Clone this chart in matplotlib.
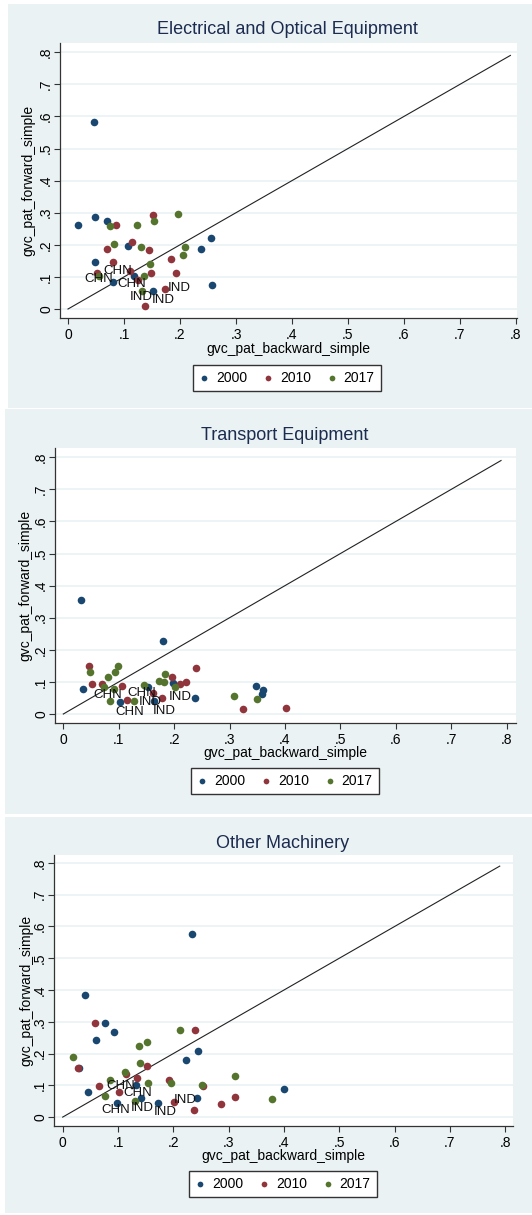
import matplotlib.pyplot as plt
import numpy as np

plt.rcParams['font.family'] = ['Liberation Sans', 'DejaVu Sans']

W, H = 532, 1215
BG = '#eaf2f3'
COLORS = ['#1a476f', '#90353b', '#55752f']
YEARS = ['2000', '2010', '2017']

# --- data -------------------------------------------------------------
titles = ['Electrical and Optical Equipment', 'Transport Equipment', 'Other Machinery']

# Electrical and Optical Equipment
e_2000_x = [0.018, 0.048, 0.069, 0.108, 0.048, 0.080, 0.117, 0.151, 0.238, 0.255, 0.257, 0.046]
e_2000_y = [0.261, 0.286, 0.273, 0.197, 0.147, 0.084, 0.103, 0.055, 0.188, 0.220, 0.074, 0.583]
e_2010_x = [0.085, 0.151, 0.069, 0.114, 0.145, 0.080, 0.184, 0.052, 0.149, 0.193, 0.173, 0.137, 0.125, 0.111]
e_2010_y = [0.262, 0.292, 0.187, 0.209, 0.184, 0.147, 0.156, 0.113, 0.111, 0.111, 0.063, 0.010, 0.090, 0.119]
e_2017_x = [0.075, 0.124, 0.154, 0.197, 0.082, 0.130, 0.209, 0.206, 0.146, 0.056, 0.136, 0.132]
e_2017_y = [0.259, 0.261, 0.275, 0.296, 0.203, 0.193, 0.194, 0.169, 0.140, 0.103, 0.104, 0.057]
e_lab = ['CHN', 'CHN', 'CHN', 'IND', 'IND', 'IND']
e_lab_x = [0.063, 0.030, 0.089, 0.178, 0.111, 0.149]
e_lab_y = [0.119, 0.092, 0.078, 0.064, 0.036, 0.028]

# Transport Equipment
t_2000_x = [0.032, 0.180, 0.036, 0.102, 0.152, 0.164, 0.198, 0.237, 0.348, 0.360, 0.359]
t_2000_y = [0.355, 0.228, 0.077, 0.037, 0.084, 0.042, 0.097, 0.049, 0.086, 0.076, 0.062]
t_2010_x = [0.047, 0.052, 0.069, 0.106, 0.115, 0.161, 0.178, 0.196, 0.211, 0.222, 0.239, 0.324, 0.401]
t_2010_y = [0.149, 0.095, 0.093, 0.087, 0.044, 0.065, 0.049, 0.114, 0.095, 0.100, 0.142, 0.017, 0.018]
t_2017_x = [0.049, 0.080, 0.093, 0.099, 0.074, 0.084, 0.092, 0.127, 0.146, 0.172, 0.181, 0.184, 0.202, 0.308, 0.350]
t_2017_y = [0.132, 0.116, 0.132, 0.151, 0.084, 0.040, 0.079, 0.042, 0.089, 0.103, 0.100, 0.124, 0.084, 0.057, 0.048]
t_lab = ['CHN', 'CHN', 'CHN', 'IND', 'IND', 'IND']
t_lab_x = [0.055, 0.116, 0.094, 0.136, 0.161, 0.190]
t_lab_y = [0.058, 0.065, 0.005, 0.037, 0.008, 0.053]

# Other Machinery
m_2000_x = [0.077, 0.060, 0.092, 0.223, 0.245, 0.046, 0.132, 0.142, 0.098, 0.173, 0.243, 0.029, 0.233, 0.040, 0.400]
m_2000_y = [0.295, 0.244, 0.267, 0.181, 0.208, 0.079, 0.102, 0.060, 0.044, 0.044, 0.060, 0.153, 0.575, 0.384, 0.090]
m_2010_x = [0.059, 0.240, 0.027, 0.152, 0.065, 0.114, 0.135, 0.101, 0.193, 0.201, 0.237, 0.254, 0.286, 0.311]
m_2010_y = [0.295, 0.274, 0.155, 0.162, 0.097, 0.136, 0.123, 0.078, 0.118, 0.049, 0.021, 0.097, 0.041, 0.063]
m_2017_x = [0.018, 0.212, 0.138, 0.152, 0.140, 0.113, 0.085, 0.076, 0.154, 0.195, 0.252, 0.131, 0.311, 0.378]
m_2017_y = [0.189, 0.273, 0.225, 0.237, 0.171, 0.142, 0.116, 0.067, 0.107, 0.107, 0.102, 0.052, 0.128, 0.057]
m_lab = ['CHN', 'CHN', 'CHN', 'IND', 'IND', 'IND']
m_lab_x = [0.079, 0.110, 0.070, 0.123, 0.165, 0.201]
m_lab_y = [0.097, 0.076, 0.023, 0.028, 0.015, 0.055]

ticks = [0, 0.1, 0.2, 0.3, 0.4, 0.5, 0.6, 0.7, 0.8]
tick_labels = ['0', '.1', '.2', '.3', '.4', '.5', '.6', '.7', '.8']
diag = [0, 0.79]

series = [
    ([(e_2000_x, e_2000_y), (e_2010_x, e_2010_y), (e_2017_x, e_2017_y)], (e_lab, e_lab_x, e_lab_y)),
    ([(t_2000_x, t_2000_y), (t_2010_x, t_2010_y), (t_2017_x, t_2017_y)], (t_lab, t_lab_x, t_lab_y)),
    ([(m_2000_x, m_2000_y), (m_2010_x, m_2010_y), (m_2017_x, m_2017_y)], (m_lab, m_lab_x, m_lab_y)),
]

# --- layout (pixels, top-left origin) --------------------------------
layout = [
    dict(bg=(8, 4, 532, 408), ax=(60, 43, 517, 318), xlim=(-0.0143, 0.8018), ylim=(-0.028, 0.8287),
         title=(287, 30), xlab=(288, 349), ylab=(28, 180), leg=(287, 378)),
    dict(bg=(5, 409, 532, 814), ax=(55, 448, 516, 723), xlim=(-0.015, 0.817), ylim=(-0.028, 0.829),
         title=(285, 435), xlab=(285, 753), ylab=(25, 585), leg=(285, 781)),
    dict(bg=(5, 817, 532, 1213), ax=(54, 855, 513, 1126), xlim=(-0.0157, 0.814), ylim=(-0.028, 0.825),
         title=(283, 843), xlab=(283, 1156), ylab=(26, 990), leg=(283, 1184)),
]


def rect(l, t, r, b):
    return [l / W, 1 - b / H, (r - l) / W, (b - t) / H]


fig = plt.figure(figsize=(W / 100, H / 100), dpi=100)
fig.patch.set_facecolor('white')

for title, (pts, labs), lay in zip(titles, series, layout):
    bg = fig.add_axes(rect(*lay['bg']))
    bg.set_facecolor(BG)
    bg.set_xticks([])
    bg.set_yticks([])
    for s in bg.spines.values():
        s.set_visible(False)

    ax = fig.add_axes(rect(*lay['ax']))
    ax.set_facecolor('white')
    ax.set_xlim(*lay['xlim'])
    ax.set_ylim(*lay['ylim'])
    for yt in ticks:
        ax.axhline(yt, color=BG, lw=1.2, zorder=0)
    ax.spines['top'].set_visible(False)
    ax.spines['right'].set_visible(False)
    for s in ('left', 'bottom'):
        ax.spines[s].set_color('#333333')
        ax.spines[s].set_linewidth(0.9)
    ax.set_xticks(ticks)
    ax.set_xticklabels(tick_labels)
    ax.set_yticks(ticks)
    ax.set_yticklabels(tick_labels, rotation=90, va='center')
    ax.tick_params(length=4, width=0.8, color='#333333', labelsize=10, pad=3)
    ax.tick_params(axis='y', pad=1)

    handles = []
    for (x, y), c, yr in zip(pts, COLORS, YEARS):
        h = ax.scatter(x, y, s=30, color=c, linewidths=0, zorder=3, label=yr)
        handles.append(h)
    ax.plot(diag, diag, color='#222222', lw=0.8, zorder=2)

    for t, lx, ly in zip(*labs):
        ax.text(lx, ly, t, fontsize=9.5, color='#111111', ha='left', va='center', zorder=4)

    fig.text(lay['title'][0] / W, 1 - lay['title'][1] / H, title, fontsize=13,
             color='#1c2b50', ha='center', va='center')
    fig.text(lay['xlab'][0] / W, 1 - lay['xlab'][1] / H, 'gvc_pat_backward_simple',
             fontsize=10, ha='center', va='center')
    fig.text(lay['ylab'][0] / W, 1 - lay['ylab'][1] / H, 'gvc_pat_forward_simple',
             fontsize=10, ha='center', va='center', rotation=90)

    leg = ax.legend(handles=handles, loc='center', ncol=3,
                    bbox_to_anchor=(lay['leg'][0] / W, 1 - lay['leg'][1] / H),
                    bbox_transform=fig.transFigure, fontsize=10, markerscale=0.75,
                    handlelength=0.7, handletextpad=0.5, columnspacing=1.15,
                    borderpad=0.45, fancybox=False, framealpha=1)
    leg.get_frame().set_edgecolor('#333333')
    leg.get_frame().set_linewidth(1.0)

fig.savefig('out.png', dpi=100, facecolor='white')
